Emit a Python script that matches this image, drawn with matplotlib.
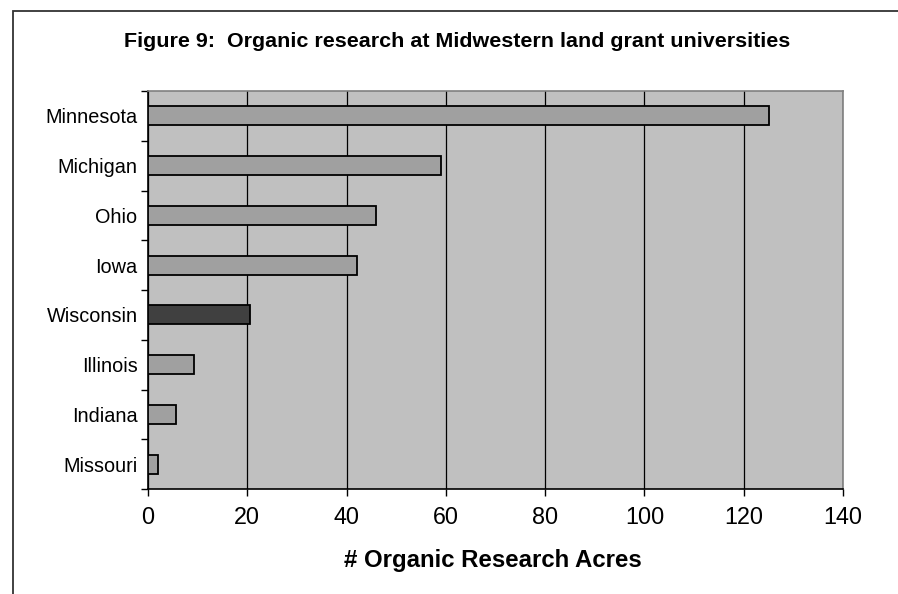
import matplotlib
matplotlib.use("Agg")
import matplotlib.pyplot as plt
from matplotlib.patches import Rectangle

states = ["Minnesota", "Michigan", "Ohio", "Iowa", "Wisconsin", "Illinois", "Indiana", "Missouri"]
acres = [125, 59, 46, 42, 20.5, 9.2, 5.6, 2]
highlight = "Wisconsin"
xticks = [0, 20, 40, 60, 80, 100, 120, 140]
title = "Figure 9:  Organic research at Midwestern land grant universities"
xlabel = "# Organic Research Acres"

plt.rcParams['font.family'] = ['Liberation Sans', 'DejaVu Sans']

W, H = 898, 594
fig = plt.figure(figsize=(W / 100, H / 100), dpi=100)
fig.patch.set_facecolor("white")

# outer chart frame (cut off at right/bottom)
fig.patches.append(Rectangle((13 / W, -0.05), 1.2, 1 - 11 / H + 0.05, transform=fig.transFigure,
                             fill=False, edgecolor="#333333", linewidth=1.3))

left, right, top, bottom = 148, 843, 91, 489
ax = fig.add_axes([left / W, 1 - bottom / H, (right - left) / W, (bottom - top) / H])
ax.set_facecolor("#C0C0C0")

ypos = list(range(len(states)))
colors = ["#404040" if s == highlight else "#A0A0A0" for s in states]
ax.barh(ypos, acres, height=0.38, color=colors, edgecolor="black", linewidth=1.3, zorder=3)

ax.set_xlim(0, 140)
ax.set_ylim(len(states) - 0.5, -0.5)
ax.set_xticks(xticks)
ax.set_xticklabels([str(t) for t in xticks], fontsize=16.8)
ax.set_yticks(ypos)
ax.set_yticklabels(states, fontsize=14.3)
ax.tick_params(axis="y", length=0, pad=7.5)
ax.set_yticks([i + 0.5 for i in range(-1, len(states))], minor=True)
ax.tick_params(axis="y", which="minor", length=5, width=1, direction="out")
ax.tick_params(axis="x", length=5, width=1, direction="out", pad=7)

ax.grid(axis="x", color="black", linewidth=0.9, zorder=1)
ax.set_axisbelow(True)
for s in ["left", "bottom"]:
    ax.spines[s].set_color("black")
    ax.spines[s].set_linewidth(1.2)
for s in ["top", "right"]:
    ax.spines[s].set_color("#808080")
    ax.spines[s].set_linewidth(1.2)

fig.text(493 / W, 1 - 567 / H, xlabel, fontsize=17.3, fontweight="bold", ha="center", va="baseline")
fig.text(457 / W, 1 - 46.7 / H, title, fontsize=15.45, fontweight="bold", ha="center", va="baseline")

fig.savefig("out.png", dpi=100)
